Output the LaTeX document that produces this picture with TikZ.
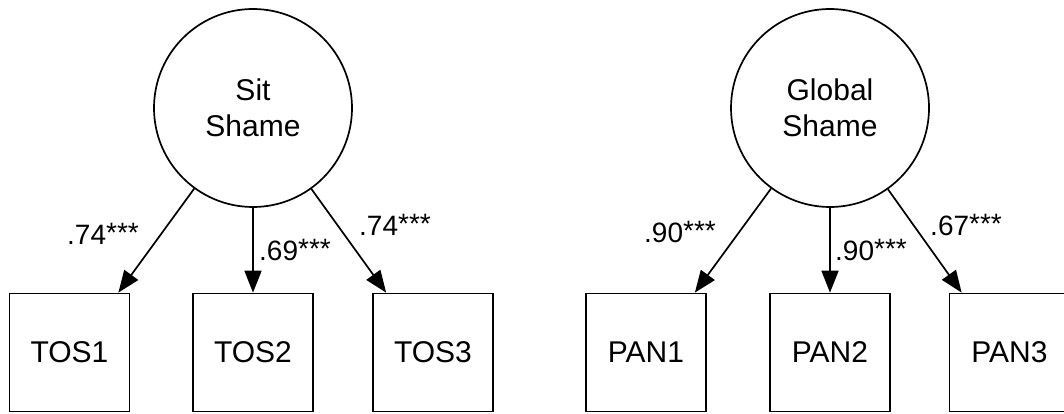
\documentclass[tikz,border=0pt]{standalone}
\usepackage{fontspec}
\setmainfont{Liberation Sans}
\usetikzlibrary{arrows.meta,calc}

\newcommand{\sig}{\raisebox{2pt}{***}}

\tikzset{
	latent/.style={circle,draw,line width=1.7pt,minimum size=198pt,inner sep=0pt,align=center,font=\fontsize{30}{36}\selectfont},
	indicator/.style={rectangle,draw,line width=1.7pt,minimum width=120pt,minimum height=118pt,inner sep=0pt,font=\fontsize{30}{36}\selectfont},
	loading/.style={-{Triangle[length=22pt,width=17pt]},line width=1.7pt},
	coef/.style={anchor=base west,inner sep=0pt,font=\fontsize{28}{34}\selectfont}
}

\begin{document}
\begin{tikzpicture}[x=1pt,y=-1pt]
	
		\clip (0,0) rectangle (1064,414);
		
		% latent factors
		\node[latent] (sit) at (253,108) {Sit\\Shame};
		\node[latent] (glob) at (830,108) {Global\\Shame};
		
		% indicators
		\node[indicator] (tos1) at (69.5,352.5) {TOS1};
		\node[indicator] (tos2) at (253,352.5) {TOS2};
		\node[indicator] (tos3) at (433,352.5) {TOS3};
		\node[indicator] (pan1) at (646,352.5) {PAN1};
		\node[indicator] (pan2) at (830,352.5) {PAN2};
		\node[indicator] (pan3) at (1009.5,352.5) {PAN3};
		
		\draw[loading] (sit) -- ($(tos1.north east)+(-12,0)$);
		\draw[loading] (sit) -- (tos2);
		\draw[loading] (sit) -- ($(tos3.north west)+(14,0)$);
		\draw[loading] (glob) -- ($(pan1.north east)+(-12,0)$);
		\draw[loading] (glob) -- (pan2);
		\draw[loading] (glob) -- ($(pan3.north west)+(13,0)$);
		
		% loadings
		\node[coef] (l1) at (67,244) {.74\sig};
		\node[coef] (l2) at (259,260) {.69\sig};
		\node[coef] (l3) at (359,235) {.74\sig};
		\node[coef] (l4) at (644,242) {.90\sig};
		\node[coef] (l5) at (835,260) {.90\sig};
		\node[coef] (l6) at (930,235) {.67\sig};
		
\end{tikzpicture}
\end{document}
